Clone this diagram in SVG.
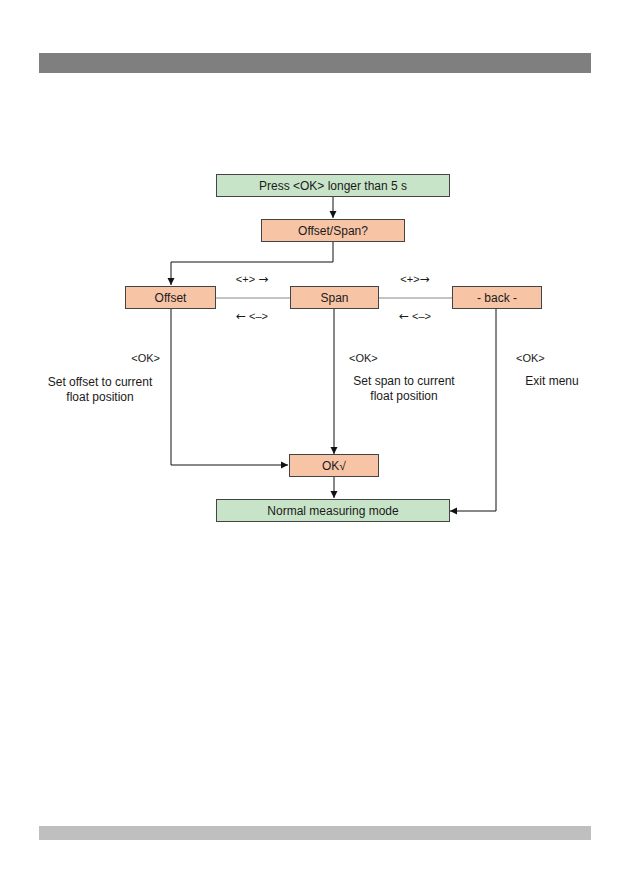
<svg xmlns="http://www.w3.org/2000/svg" width="631" height="893" viewBox="0 0 631 893">
<defs>
<marker id="ah" markerWidth="8" markerHeight="8" refX="7" refY="4" orient="auto" markerUnits="userSpaceOnUse">
<path d="M0,0.5 L7,4 L0,7.5 Z" fill="#111"/>
</marker>
<style>
.g{fill:#c8e4c8;stroke:#444;stroke-width:1}
.o{fill:#f7c4a6;stroke:#444;stroke-width:1}
.t{font-family:"Liberation Sans",Arial,sans-serif;font-size:12px;fill:#1a1a1a}
.s{font-size:11px}
.a{font-family:"DejaVu Sans",sans-serif;font-size:12px}
.c{text-anchor:middle}
.l{fill:none;stroke:#111;stroke-width:1}
.h{fill:none;stroke:#888;stroke-width:1}
</style>
</defs>
<rect x="39" y="53" width="552" height="20" fill="#7f7f7f"/>
<rect x="39" y="826" width="552" height="14" fill="#bfbfbf"/>
<g id="connectors">
<line class="l" x1="333" y1="196" x2="333" y2="218" marker-end="url(#ah)"/>
<polyline class="l" points="333,241 333,262 171,262 171,285" marker-end="url(#ah)"/>
<line class="h" x1="215" y1="298" x2="290" y2="298"/>
<line class="h" x1="378" y1="298" x2="452" y2="298"/>
<polyline class="l" points="171,308 171,465 288,465" marker-end="url(#ah)"/>
<line class="l" x1="334" y1="308" x2="334" y2="454" marker-end="url(#ah)"/>
<line class="l" x1="334" y1="476" x2="334" y2="498" marker-end="url(#ah)"/>
<polyline class="l" points="496,308 496,511 450,511" marker-end="url(#ah)"/>
</g>
<g id="press"><rect class="g" x="216.5" y="174.5" width="233" height="22"/><text class="t c" x="333" y="190">Press &lt;OK&gt; longer than 5 s</text></g>
<g id="offsetspan"><rect class="o" x="261.5" y="219.5" width="143" height="22"/><text class="t c" x="333" y="235">Offset/Span?</text></g>
<g id="offset"><rect class="o" x="125.5" y="286.5" width="90" height="22"/><text class="t c" x="170.5" y="302">Offset</text></g>
<g id="span"><rect class="o" x="290.5" y="286.5" width="88" height="22"/><text class="t c" x="334.5" y="302">Span</text></g>
<g id="back"><rect class="o" x="452.5" y="286.5" width="89" height="22"/><text class="t c" x="497" y="302">- back -</text></g>
<g id="okcheck"><rect class="o" x="289.5" y="454.5" width="89" height="22"/><text class="t c" x="334" y="470">OK√</text></g>
<g id="normal"><rect class="g" x="216.5" y="499.5" width="233" height="22"/><text class="t c" x="333" y="515">Normal measuring mode</text></g>
<g id="labels">
<text class="t s c" x="252" y="283">&lt;+&gt; <tspan class="a">→</tspan></text>
<text class="t s c" x="252" y="320"><tspan class="a">←</tspan> &lt;–&gt;</text>
<text class="t s c" x="415" y="283">&lt;+&gt;<tspan class="a">→</tspan></text>
<text class="t s c" x="415" y="320"><tspan class="a">←</tspan> &lt;–&gt;</text>
<text class="t s" x="160" y="362" text-anchor="end">&lt;OK&gt;</text>
<text class="t c" x="100" y="386">Set offset to current</text>
<text class="t c" x="100" y="401">float position</text>
<text class="t s" x="349" y="362">&lt;OK&gt;</text>
<text class="t c" x="404" y="385">Set span to current</text>
<text class="t c" x="404" y="400">float position</text>
<text class="t s" x="516" y="362">&lt;OK&gt;</text>
<text class="t c" x="552" y="385">Exit menu</text>
</g>
</svg>
